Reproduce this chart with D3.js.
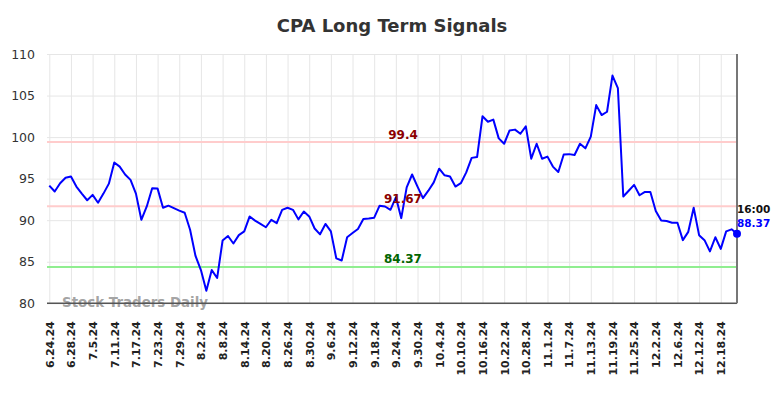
<!DOCTYPE html>
<html>
<head>
<meta charset="utf-8">
<script src="https://cdn.jsdelivr.net/npm/d3@7"></script>
<style>
  html, body { margin: 0; padding: 0; background: #fff; }
  svg { display: block; font-family: "DejaVu Sans", sans-serif; }
</style>
</head>
<body>
<svg id="chart" width="784" height="398"></svg>
<script>
const dates = [
  "6.24.24","6.25.24","6.26.24","6.27.24","6.28.24",
  "7.1.24","7.2.24","7.3.24","7.5.24","7.8.24","7.9.24","7.10.24","7.11.24","7.12.24","7.15.24","7.16.24","7.17.24","7.18.24","7.19.24","7.22.24","7.23.24","7.24.24","7.25.24","7.26.24","7.29.24","7.30.24","7.31.24",
  "8.1.24","8.2.24","8.5.24","8.6.24","8.7.24","8.8.24","8.9.24","8.12.24","8.13.24","8.14.24","8.15.24","8.16.24","8.19.24","8.20.24","8.21.24","8.22.24","8.23.24","8.26.24","8.27.24","8.28.24","8.29.24","8.30.24",
  "9.3.24","9.4.24","9.5.24","9.6.24","9.9.24","9.10.24","9.11.24","9.12.24","9.13.24","9.16.24","9.17.24","9.18.24","9.19.24","9.20.24","9.23.24","9.24.24","9.25.24","9.26.24","9.27.24","9.30.24",
  "10.1.24","10.2.24","10.3.24","10.4.24","10.7.24","10.8.24","10.9.24","10.10.24","10.11.24","10.14.24","10.15.24","10.16.24","10.17.24","10.18.24","10.21.24","10.22.24","10.23.24","10.24.24","10.25.24","10.28.24","10.29.24","10.30.24","10.31.24",
  "11.1.24","11.4.24","11.5.24","11.6.24","11.7.24","11.8.24","11.11.24","11.12.24","11.13.24","11.14.24","11.15.24","11.18.24","11.19.24","11.20.24","11.21.24","11.22.24","11.25.24","11.26.24","11.27.24","11.29.24",
  "12.2.24","12.3.24","12.4.24","12.5.24","12.6.24","12.9.24","12.10.24","12.11.24","12.12.24","12.13.24","12.16.24","12.17.24","12.18.24","12.19.24","12.20.24","12.23.24"
];

const prices = [
  94.17, 93.45, 94.45, 95.1, 95.25, 94.05, 93.2, 92.4, 93.05, 92.1,
  93.2, 94.4, 96.95, 96.45, 95.5, 94.85, 93.2, 90.05, 91.65, 93.85,
  93.8, 91.5, 91.75, 91.45, 91.15, 90.9, 88.85, 85.7, 84.0, 81.5,
  84.0, 83.05, 87.55, 88.1, 87.2, 88.2, 88.65, 90.45, 89.95, 89.55,
  89.15, 90.05, 89.65, 91.25, 91.5, 91.25, 90.1, 91.05, 90.45, 89.0,
  88.3, 89.55, 88.65, 85.4, 85.15, 87.95, 88.45, 88.95, 90.15, 90.2,
  90.3, 91.75, 91.65, 91.25, 92.75, 90.25, 93.95, 95.5, 94.05, 92.65,
  93.55, 94.55, 96.2, 95.4, 95.25, 94.05, 94.45, 95.75, 97.5, 97.6,
  102.5, 101.85, 102.1, 99.85, 99.2, 100.8, 100.9, 100.4, 101.3, 97.4,
  99.2, 97.4, 97.65, 96.45, 95.8, 97.9, 97.95, 97.85, 99.2, 98.65,
  100.05, 103.85, 102.65, 103.05, 107.4, 105.9, 92.85, 93.55, 94.25, 93.0,
  93.4, 93.4, 91.1, 89.95, 89.9, 89.7, 89.7, 87.6, 88.6, 91.5,
  88.2, 87.6, 86.25, 87.95, 86.55, 88.65, 88.9, 88.37
];

const tickLabels = [
  "6.24.24","6.28.24","7.5.24","7.11.24","7.17.24","7.23.24","7.29.24","8.2.24",
  "8.8.24","8.14.24","8.20.24","8.26.24","8.30.24","9.6.24","9.12.24","9.18.24",
  "9.24.24","9.30.24","10.4.24","10.10.24","10.16.24","10.22.24","10.28.24","11.1.24",
  "11.7.24","11.13.24","11.19.24","11.25.24","12.2.24","12.6.24","12.12.24","12.18.24"
];

const yTicks = [80, 85, 90, 95, 100, 105, 110];
const signalLevels = [99.4, 91.67, 84.37];
const signalLabels = ["99.4", "91.67", "84.37"];
const signalLineColors = ["#ffcccc", "#ffcccc", "#90ee90"];
const signalTextColors = ["#8b0000", "#8b0000", "#006400"];
const lastTimeLabel = "16:00";

const svg = d3.select("#chart");
const plotLeft = 47, plotRight = 737, plotTop = 54, plotBottom = 303.3;

const x = d3.scalePoint().domain(dates).range([49.3, 737]);
const y = d3.scaleLinear().domain([80, 110]).range([plotBottom, plotTop]);

// title
svg.append("text")
  .attr("x", 392).attr("y", 32)
  .attr("text-anchor", "middle")
  .attr("font-size", 18).attr("font-weight", "bold")
  .attr("fill", "#333")
  .text("CPA Long Term Signals");

// horizontal grid + y axis labels
const yAxis = d3.axisLeft(y).tickValues(yTicks).tickSize(-(plotRight - plotLeft)).tickPadding(12);
const gy = svg.append("g").attr("transform", `translate(${plotLeft},0)`).call(yAxis);
gy.select(".domain").remove();
gy.selectAll(".tick line").attr("stroke", "#e6e6e6").attr("stroke-width", 1);
gy.selectAll(".tick text").attr("font-size", 12.5).attr("fill", "#333")
  .attr("font-family", "DejaVu Sans, sans-serif");

// vertical grid + x labels
const xAxis = d3.axisBottom(x).tickValues(tickLabels).tickSize(-(plotBottom - plotTop)).tickPadding(0);
const gx = svg.append("g").attr("transform", `translate(0,${plotBottom})`).call(xAxis);
gx.select(".domain").remove();
gx.selectAll(".tick line").attr("stroke", "#e6e6e6").attr("stroke-width", 1);
gx.selectAll(".tick text")
  .attr("font-size", 11).attr("font-weight", "bold").attr("fill", "#222")
  .attr("font-family", "DejaVu Sans, sans-serif")
  .attr("text-anchor", "end")
  .attr("dy", "0.35em")
  .attr("transform", "translate(0,18) rotate(-90)")
  .attr("x", 0).attr("y", 0);

// signal lines
signalLevels.forEach((v, i) => {
  svg.append("line")
    .attr("x1", plotLeft).attr("x2", plotRight)
    .attr("y1", y(v)).attr("y2", y(v))
    .attr("stroke", signalLineColors[i]).attr("stroke-width", 2);
});

// watermark
svg.append("text")
  .attr("x", 62).attr("y", 307)
  .attr("font-size", 13.4).attr("font-weight", "bold")
  .attr("fill", "#999").attr("fill-opacity", 0.9)
  .text("Stock Traders Daily");

// axes lines
svg.append("line")
  .attr("x1", plotLeft).attr("x2", plotRight)
  .attr("y1", plotBottom).attr("y2", plotBottom)
  .attr("stroke", "#555").attr("stroke-width", 1.5);
svg.append("line")
  .attr("x1", plotRight).attr("x2", plotRight)
  .attr("y1", plotTop).attr("y2", plotBottom)
  .attr("stroke", "#777").attr("stroke-width", 2);

// price line
const line = d3.line().x((d, i) => x(dates[i])).y(d => y(d));
svg.append("path")
  .datum(prices)
  .attr("d", line)
  .attr("fill", "none")
  .attr("stroke", "#0000ff")
  .attr("stroke-width", 2)
  .attr("stroke-linejoin", "round");

// signal labels
signalLevels.forEach((v, i) => {
  svg.append("text")
    .attr("x", 403).attr("y", y(v) - 3.5)
    .attr("text-anchor", "middle")
    .attr("font-size", 12).attr("font-weight", "bold")
    .attr("fill", signalTextColors[i])
    .text(signalLabels[i]);
});

// last point
const lastIdx = prices.length - 1;
const lx = x(dates[lastIdx]), ly = y(prices[lastIdx]);
svg.append("circle").attr("cx", lx).attr("cy", ly).attr("r", 4).attr("fill", "#0000ff");
svg.append("text")
  .attr("x", lx).attr("y", 212.7)
  .attr("font-size", 10.5).attr("font-weight", "bold").attr("fill", "#111")
  .text(lastTimeLabel);
svg.append("text")
  .attr("x", lx).attr("y", 227.3)
  .attr("font-size", 10.5).attr("font-weight", "bold").attr("fill", "#0000ff")
  .text(prices[lastIdx].toFixed(2));
</script>
</body>
</html>
